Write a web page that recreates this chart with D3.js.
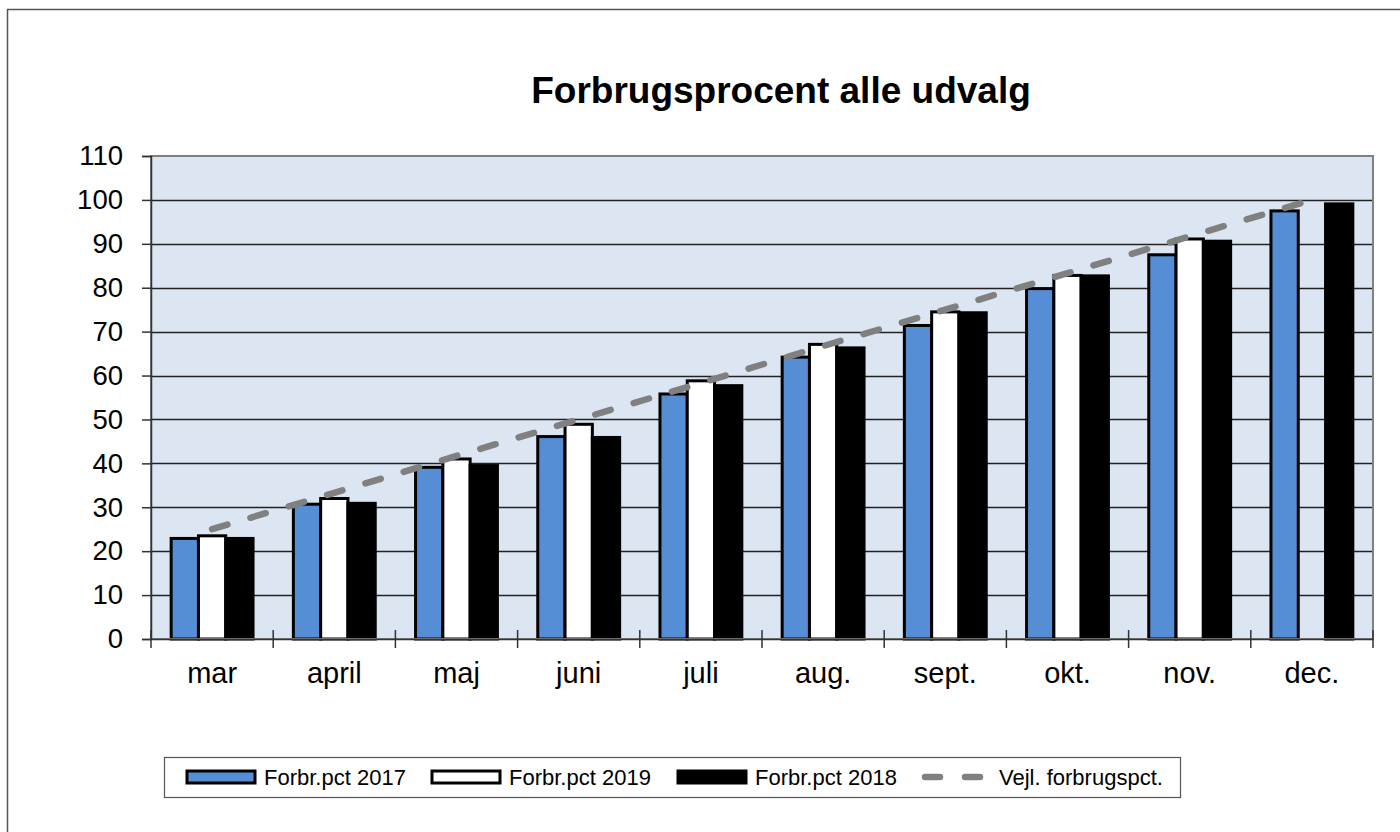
<!DOCTYPE html>
<html>
<head>
<meta charset="utf-8">
<script src="https://cdnjs.cloudflare.com/ajax/libs/d3/7.8.5/d3.min.js"></script>
<style>
  body { margin:0; background:#fff; }
  text { font-family: "Liberation Sans", Arial, sans-serif; }
</style>
</head>
<body>
<svg id="chart" width="1400" height="832"></svg>
<script>
const months = ['mar','april','maj','juni','juli','aug.','sept.','okt.','nov.','dec.']
const pct2017 = [22.9, 30.7, 39.1, 46.1, 55.8, 64.2, 71.4, 79.8, 87.5, 97.5]
const pct2019 = [23.5, 32.0, 41.0, 48.9, 58.8, 67.1, 74.5, 82.8, 91.1, null]
const pct2018 = [22.9, 30.9, 39.5, 45.9, 57.7, 66.3, 74.3, 82.7, 90.6, 99.1]
const guide   = [25, 33.3, 41.7, 50, 58.3, 66.7, 75, 83.3, 91.7, 100]
const yTicks  = [0,10,20,30,40,50,60,70,80,90,100,110]

const series = [
  {name:'Forbr.pct 2017', values:pct2017, fill:'#558ed5'},
  {name:'Forbr.pct 2019', values:pct2019, fill:'#ffffff'},
  {name:'Forbr.pct 2018', values:pct2018, fill:'#000000'}
]

const svg = d3.select('#chart')
const m = {left:151, top:156, right:1373, bottom:639}

// outer frame
svg.append('path')
  .attr('d', 'M7.5,1000 V9.5 H1500')
  .attr('fill','none').attr('stroke','#555').attr('stroke-width',1.5)

svg.append('text')
  .attr('x', 781).attr('y', 103)
  .attr('text-anchor','middle')
  .attr('font-size', 37).attr('font-weight','bold')
  .text('Forbrugsprocent alle udvalg')

const x = d3.scaleBand().domain(months).range([m.left, m.right]).paddingInner(0.33).paddingOuter(0.165)
const xb = d3.scaleBand().domain(d3.range(series.length)).range([0, x.bandwidth()])
const y = d3.scaleLinear().domain([0,110]).range([m.bottom, m.top])

svg.append('rect')
  .attr('x', m.left).attr('y', m.top)
  .attr('width', m.right-m.left).attr('height', m.bottom-m.top)
  .attr('fill','#dce6f2')

// gridlines
svg.append('g').selectAll('line').data(yTicks.slice(1,-1)).join('line')
  .attr('x1', m.left).attr('x2', m.right)
  .attr('y1', d=>Math.round(y(d))+0.5).attr('y2', d=>Math.round(y(d))+0.5)
  .attr('stroke','#222').attr('stroke-width',1.4)

// bars
series.forEach((s,i)=>{
  svg.append('g').selectAll('rect')
    .data(s.values.map((v,j)=>({v, m:months[j]})).filter(d=>d.v!=null))
    .join('rect')
    .attr('x', d=>x(d.m)+xb(i))
    .attr('y', d=>y(d.v))
    .attr('width', xb.bandwidth())
    .attr('height', d=>y(0)-y(d.v))
    .attr('fill', s.fill)
    .attr('stroke','#000').attr('stroke-width',3)
})

// guideline
const line = d3.line().x((d,i)=>x(months[i])+x.bandwidth()/2).y(d=>y(d))
svg.append('path')
  .datum(guide)
  .attr('d', line)
  .attr('fill','none').attr('stroke','#808080')
  .attr('stroke-width',6.5).attr('stroke-linecap','round')
  .attr('stroke-dasharray','16 24')

// plot border
svg.append('rect')
  .attr('x', m.left).attr('y', m.top)
  .attr('width', m.right-m.left).attr('height', m.bottom-m.top)
  .attr('fill','none').attr('stroke','#808080').attr('stroke-width',2)

// y axis
const yAxis = svg.append('g').attr('transform',`translate(${m.left},0)`)
  .call(d3.axisLeft(y).tickValues(yTicks).tickSize(9).tickPadding(19))
yAxis.select('.domain').attr('stroke','#333').attr('stroke-width',1.5)
yAxis.selectAll('.tick line').attr('stroke','#333').attr('stroke-width',1.5)
yAxis.selectAll('text').attr('font-size',27.5).attr('fill','#000')
  .attr('font-family','"Liberation Sans", Arial, sans-serif')

// x axis
const xAxis = svg.append('g').attr('transform',`translate(0,${m.bottom})`)
  .call(d3.axisBottom(x).tickSize(0).tickPadding(23))
xAxis.select('.domain').attr('stroke','#333').attr('stroke-width',1.5)
xAxis.selectAll('text').attr('font-size',29).attr('fill','#000')
  .attr('font-family','"Liberation Sans", Arial, sans-serif')
const bandStep = x.step()
svg.append('g').selectAll('line').data(d3.range(months.length+1)).join('line')
  .attr('x1', d=>m.left + d*bandStep).attr('x2', d=>m.left + d*bandStep)
  .attr('y1', m.bottom-9).attr('y2', m.bottom+9)
  .attr('stroke','#333').attr('stroke-width',1.5)

// legend
const lg = svg.append('g')
lg.append('rect').attr('x',164.5).attr('y',757.5).attr('width',1016).attr('height',40)
  .attr('fill','#fff').attr('stroke','#555').attr('stroke-width',1.2)
const legendItems = [
  {x:187, label:series[0].name, fill:series[0].fill, type:'bar'},
  {x:432, label:series[1].name, fill:series[1].fill, type:'bar'},
  {x:678, label:series[2].name, fill:series[2].fill, type:'bar'},
  {x:922, label:'Vejl. forbrugspct.', type:'line'}
]
legendItems.forEach(d=>{
  if (d.type=='bar') {
    lg.append('rect').attr('x',d.x).attr('y',771).attr('width',68).attr('height',12)
      .attr('fill',d.fill).attr('stroke','#000').attr('stroke-width',3)
  } else {
    lg.append('line').attr('x1',d.x+3).attr('x2',d.x+62).attr('y1',777).attr('y2',777)
      .attr('stroke','#808080').attr('stroke-width',6.5).attr('stroke-linecap','round')
      .attr('stroke-dasharray','15 25')
  }
  lg.append('text').attr('x', d.x+77).attr('y',785)
    .attr('font-size',22).text(d.label)
})
</script>
</body>
</html>
